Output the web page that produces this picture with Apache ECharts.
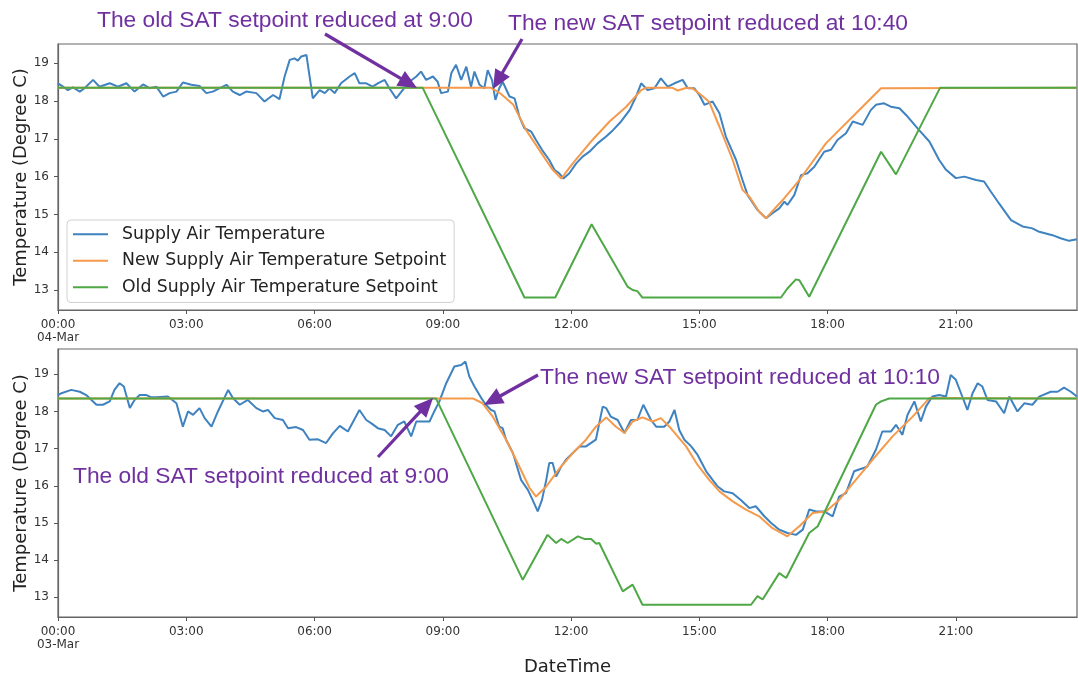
<!DOCTYPE html>
<html>
<head>
<meta charset="utf-8">
<script src="https://cdn.jsdelivr.net/npm/echarts@6/dist/echarts.min.js"></script>
<style>
html,body{margin:0;padding:0;background:#fff;}
#chart{width:1078px;height:678px;}
</style>
</head>
<body>
<div id="chart"></div>
<script>
// ---------------- DATA (hours since 00:00, temperature in degC) ----------------
const SERIES_NAMES = ['Supply Air Temperature', 'New Supply Air Temperature Setpoint', 'Old Supply Air Temperature Setpoint'];
const X_TICKS = [0, 3, 6, 9, 12, 15, 18, 21];
const Y_TICKS = [13, 14, 15, 16, 17, 18, 19];
const TOP_DATE = '04-Mar';
const BOTTOM_DATE = '03-Mar';

// Top panel (04-Mar)
const TOP_SAT = [[0,18.47],[0.12,18.38],[0.23,18.29],[0.35,18.36],[0.51,18.25],[0.62,18.34],[0.82,18.56],[0.97,18.38],[1.21,18.47],[1.4,18.38],[1.6,18.47],[1.79,18.25],[1.99,18.44],[2.14,18.34],[2.3,18.38],[2.46,18.12],[2.61,18.21],[2.77,18.25],[2.92,18.49],[3.12,18.43],[3.31,18.4],[3.47,18.21],[3.62,18.25],[3.94,18.43],[4.09,18.25],[4.25,18.16],[4.4,18.25],[4.64,18.21],[4.83,17.99],[5.03,18.16],[5.18,18.05],[5.3,18.65],[5.42,19.09],[5.53,19.13],[5.61,19.07],[5.69,19.18],[5.81,19.22],[5.96,18.07],[6.12,18.29],[6.24,18.21],[6.35,18.34],[6.47,18.21],[6.62,18.47],[6.82,18.65],[6.94,18.74],[7.05,18.47],[7.21,18.47],[7.36,18.38],[7.48,18.47],[7.64,18.56],[7.75,18.34],[7.91,18.07],[8.06,18.29],[8.22,18.51],[8.38,18.65],[8.49,18.78],[8.61,18.56],[8.77,18.65],[8.88,18.51],[8.96,18.21],[9.12,18.25],[9.2,18.74],[9.31,18.96],[9.43,18.56],[9.55,18.91],[9.66,18.38],[9.74,18.78],[9.86,18.43],[9.97,18.34],[10.05,18.82],[10.15,18.56],[10.23,18.03],[10.32,18.34],[10.4,18.51],[10.56,18.12],[10.68,18.07],[10.79,17.59],[10.91,17.28],[11.07,17.19],[11.18,16.97],[11.32,16.71],[11.49,16.44],[11.61,16.18],[11.72,16.09],[11.82,15.95],[11.96,16.09],[12.12,16.35],[12.27,16.53],[12.43,16.66],[12.62,16.88],[12.82,17.06],[12.98,17.23],[13.17,17.46],[13.37,17.76],[13.52,18.12],[13.64,18.47],[13.79,18.29],[13.95,18.34],[14.1,18.6],[14.26,18.38],[14.42,18.47],[14.61,18.56],[14.73,18.34],[14.88,18.34],[15.0,18.16],[15.12,17.9],[15.31,17.99],[15.47,17.68],[15.62,17.06],[15.86,16.44],[16.01,15.91],[16.13,15.51],[16.36,15.12],[16.56,14.9],[16.71,15.03],[16.87,15.16],[16.99,15.34],[17.06,15.25],[17.22,15.51],[17.38,16.04],[17.53,16.09],[17.69,16.26],[17.92,16.66],[18.08,16.71],[18.23,16.97],[18.43,17.15],[18.59,17.46],[18.82,17.37],[19.01,17.76],[19.13,17.9],[19.32,17.94],[19.48,17.85],[19.68,17.81],[19.87,17.59],[20.14,17.23],[20.38,16.93],[20.61,16.44],[20.77,16.18],[21.0,15.96],[21.2,16.0],[21.47,15.91],[21.66,15.87],[21.82,15.6],[22.01,15.29],[22.29,14.85],[22.56,14.68],[22.79,14.63],[22.95,14.54],[23.26,14.45],[23.45,14.37],[23.65,14.3],[23.83,14.34]];
const TOP_NEW_SP = [[0,18.35],[10.13,18.35],[10.35,18.2],[10.65,17.9],[10.95,17.23],[11.26,16.7],[11.57,16.18],[11.77,15.95],[12.04,16.35],[12.5,16.97],[12.9,17.46],[13.29,17.85],[13.64,18.29],[13.75,18.35],[14.37,18.35],[14.5,18.28],[14.7,18.35],[14.85,18.33],[15.0,18.2],[15.23,17.98],[15.47,17.32],[15.78,16.44],[16.01,15.65],[16.17,15.47],[16.4,15.07],[16.56,14.9],[16.95,15.38],[17.34,15.91],[17.96,16.88],[18.27,17.23],[18.59,17.59],[19.25,18.34],[23.83,18.35]];
const TOP_OLD_SP = [[0,18.35],[8.53,18.35],[10.91,12.8],[11.63,12.8],[12.48,14.74],[13.32,13.09],[13.44,13.0],[13.55,12.97],[13.67,12.8],[16.91,12.8],[17.06,13.04],[17.26,13.28],[17.34,13.26],[17.57,12.82],[19.25,16.66],[19.6,16.06],[20.63,18.35],[23.83,18.35]];

// Bottom panel (03-Mar)
const BOT_SAT = [[0,18.44],[0.08,18.49],[0.31,18.58],[0.51,18.53],[0.66,18.44],[0.9,18.18],[1.05,18.18],[1.21,18.27],[1.32,18.58],[1.44,18.76],[1.54,18.67],[1.68,18.09],[1.79,18.31],[1.91,18.44],[2.07,18.44],[2.18,18.38],[2.3,18.38],[2.57,18.4],[2.77,18.22],[2.92,17.59],[3.04,18.0],[3.16,17.91],[3.31,18.09],[3.43,17.82],[3.59,17.59],[3.74,18.0],[3.98,18.58],[4.09,18.36],[4.25,18.18],[4.44,18.31],[4.64,18.09],[4.79,18.0],[4.91,18.04],[5.07,17.82],[5.26,17.77],[5.38,17.55],[5.57,17.58],[5.73,17.5],[5.88,17.24],[6.08,17.25],[6.27,17.15],[6.43,17.41],[6.59,17.61],[6.78,17.46],[7.05,18.04],[7.21,17.77],[7.33,17.68],[7.48,17.55],[7.64,17.5],[7.79,17.33],[7.95,17.64],[8.1,17.73],[8.26,17.33],[8.38,17.73],[8.49,17.73],[8.69,17.73],[8.8,18.0],[8.92,18.27],[9.08,18.76],[9.27,19.21],[9.43,19.25],[9.53,19.34],[9.62,18.94],[9.74,18.67],[9.9,18.36],[10.01,18.18],[10.13,18.04],[10.21,18.0],[10.32,17.59],[10.4,17.55],[10.48,17.24],[10.64,16.88],[10.83,16.16],[10.99,15.89],[11.1,15.62],[11.22,15.31],[11.32,15.62],[11.42,16.16],[11.49,16.61],[11.57,16.61],[11.65,16.25],[11.77,16.52],[11.88,16.7],[12.04,16.88],[12.2,17.06],[12.35,17.06],[12.58,17.24],[12.74,18.13],[12.82,18.09],[12.93,17.86],[13.09,17.77],[13.25,17.42],[13.4,17.77],[13.55,17.77],[13.69,18.18],[13.87,17.77],[13.99,17.59],[14.18,17.59],[14.3,17.73],[14.42,18.04],[14.53,17.5],[14.65,17.24],[14.81,17.06],[14.96,16.83],[15.16,16.39],[15.31,16.16],[15.43,15.98],[15.58,15.85],[15.78,15.8],[15.97,15.62],[16.17,15.4],[16.32,15.45],[16.52,15.18],[16.68,15.0],[16.87,14.82],[17.06,14.73],[17.26,14.68],[17.42,14.82],[17.57,15.36],[17.73,15.31],[17.92,15.31],[18.12,15.18],[18.27,15.71],[18.43,15.8],[18.62,16.39],[18.82,16.47],[18.93,16.52],[19.13,16.97],[19.28,17.46],[19.48,17.46],[19.6,17.64],[19.75,17.37],[19.87,17.91],[20.03,18.27],[20.18,17.73],[20.3,18.13],[20.45,18.4],[20.61,18.44],[20.77,18.4],[20.88,18.98],[21.0,18.85],[21.12,18.49],[21.27,18.04],[21.39,18.49],[21.51,18.76],[21.62,18.67],[21.74,18.31],[21.94,18.27],[22.13,17.95],[22.25,18.4],[22.44,18.0],[22.6,18.22],[22.79,18.18],[22.95,18.4],[23.22,18.53],[23.38,18.53],[23.53,18.64],[23.69,18.53],[23.83,18.4]];
const BOT_NEW_SP = [[0,18.35],[9.7,18.35],[9.93,18.22],[10.17,17.86],[10.48,17.24],[10.79,16.52],[11.03,15.94],[11.18,15.71],[11.42,15.98],[11.73,16.47],[12.04,16.88],[12.35,17.24],[12.58,17.59],[12.82,17.84],[13.05,17.59],[13.25,17.42],[13.44,17.73],[13.67,17.84],[13.91,17.73],[14.1,17.82],[14.3,17.59],[14.69,17.06],[14.96,16.56],[15.23,16.16],[15.47,15.85],[15.78,15.58],[16.09,15.36],[16.4,15.18],[16.71,14.86],[17.06,14.64],[17.34,14.91],[17.65,15.27],[17.96,15.31],[18.27,15.62],[18.66,16.16],[19.05,16.7],[19.52,17.33],[19.99,17.86],[20.38,18.36],[23.83,18.35]];
const BOT_OLD_SP = [[0,18.35],[8.84,18.35],[10.87,13.47],[11.45,14.68],[11.65,14.46],[11.77,14.57],[11.92,14.46],[12.16,14.64],[12.31,14.57],[12.47,14.57],[12.59,14.44],[12.66,14.46],[13.21,13.16],[13.44,13.34],[13.67,12.8],[16.21,12.8],[16.36,13.03],[16.48,12.94],[16.87,13.65],[17.03,13.52],[17.57,14.73],[17.77,14.91],[19.13,18.18],[19.25,18.27],[19.44,18.35],[23.83,18.35]];

// Annotations (text + arrow tail/tip in pixels)
const ANNOTATIONS = [
  {text:'The old SAT setpoint reduced at 9:00', tx:97, ty:20.5, from:[325,34], to:[417,88]},
  {text:'The new SAT setpoint reduced at 10:40', tx:508, ty:23.5, from:[522,39], to:[493,89]},
  {text:'The new SAT setpoint reduced at 10:10', tx:540, ty:377.5, from:[538,375], to:[484,405]},
  {text:'The old SAT setpoint reduced at 9:00', tx:73, ty:477, from:[378,457], to:[433,398]}
];

// ---------------- CHART ----------------
const COLORS = ['#3f82c0', '#f5994b', '#4ea846'];
const PURPLE = '#7030a0';
const FONT = 'DejaVu Sans';
const X_MIN = 0, X_MAX = 23 + 50/60;

function hh(v){ return (v < 10 ? '0' : '') + Math.round(v) + ':00'; }

function makeX(gridIndex, date, withName){
  return {
    type:'value', gridIndex, min:X_MIN, max:X_MAX,
    axisLine:{show:true, lineStyle:{color:'#666', width:1.2}},
    axisTick:{show:true, inside:false, length:4, lineStyle:{color:'#555'}, customValues:X_TICKS},
    axisLabel:{customValues:X_TICKS, color:'#333', fontFamily:FONT, fontSize:12, lineHeight:13, margin:8,
      formatter: v => v === 0 ? hh(v) + '\n' + date : hh(v)},
    splitLine:{show:false},
    name: withName ? 'DateTime' : '',
    nameLocation:'middle', nameGap:41, nameMoveOverlap:false,
    nameTextStyle:{color:'#222', fontFamily:FONT, fontSize:18}
  };
}
function makeY(gridIndex, min, max){
  return {
    type:'value', gridIndex, min, max,
    axisLine:{show:true, lineStyle:{color:'#666', width:1.2}},
    axisTick:{show:true, inside:false, length:4, lineStyle:{color:'#555'}, customValues:Y_TICKS},
    axisLabel:{customValues:Y_TICKS, color:'#333', fontFamily:FONT, fontSize:12, margin:9},
    splitLine:{show:false},
    name:'Temperature (Degree C)', nameLocation:'middle', nameGap:28, nameMoveOverlap:false,
    nameTextStyle:{color:'#222', fontFamily:FONT, fontSize:18}
  };
}
function makeSeries(name, data, idx, color){
  return {
    type:'line', name, data, xAxisIndex:idx, yAxisIndex:idx,
    showSymbol:false, symbol:'none', smooth:false, animation:false,
    lineStyle:{color, width:2}, itemStyle:{color}
  };
}

const graphic = [];
ANNOTATIONS.forEach(a => {
  graphic.push({type:'text', x:a.tx, y:a.ty, z:100,
    style:{text:a.text, fill:PURPLE, fontSize:22.8, fontFamily:'Liberation Sans', verticalAlign:'middle'}});
  const [x1,y1] = a.from, [x2,y2] = a.to;
  const dx = x2-x1, dy = y2-y1, L = Math.hypot(dx,dy), ux = dx/L, uy = dy/L;
  const hl = 19, hw = 8.5;
  const bx = x2 - ux*hl, by = y2 - uy*hl;
  graphic.push({type:'line', z:100, shape:{x1, y1, x2:bx+ux*2, y2:by+uy*2}, style:{stroke:PURPLE, lineWidth:3.2}});
  graphic.push({type:'polygon', z:100, shape:{points:[[x2,y2],[bx - uy*hw, by + ux*hw],[bx + uy*hw, by - ux*hw]]}, style:{fill:PURPLE}});
});

const gridBase = {show:true, borderColor:'#666', borderWidth:1.2, backgroundColor:'transparent',
  containLabel:false, outerBoundsMode:'none'};

const chart = echarts.init(document.getElementById('chart'), null, {renderer:'canvas'});
chart.setOption({
  animation:false,
  backgroundColor:'#fff',
  grid:[
    Object.assign({left:58, top:44, width:1019, height:266}, gridBase),
    Object.assign({left:58, top:349, width:1019, height:268}, gridBase)
  ],
  xAxis:[makeX(0, TOP_DATE, false), makeX(1, BOTTOM_DATE, true)],
  yAxis:[makeY(0, 12.47, 19.51), makeY(1, 12.47, 19.68)],
  legend:{
    show:true, orient:'vertical', left:67, top:220,
    data:SERIES_NAMES, icon:'rect', itemWidth:35, itemHeight:2, itemGap:8,
    padding:[5, 8, 6, 6],
    backgroundColor:'rgba(255,255,255,0.85)', borderColor:'#d0d0d0', borderWidth:1, borderRadius:4,
    textStyle:{color:'#222', fontFamily:FONT, fontSize:17.3, lineHeight:18.5, padding:[0,0,0,9]},
    selectedMode:false
  },
  graphic,
  series:[
    makeSeries(SERIES_NAMES[0], TOP_SAT, 0, COLORS[0]),
    makeSeries(SERIES_NAMES[1], TOP_NEW_SP, 0, COLORS[1]),
    makeSeries(SERIES_NAMES[2], TOP_OLD_SP, 0, COLORS[2]),
    makeSeries(SERIES_NAMES[0], BOT_SAT, 1, COLORS[0]),
    makeSeries(SERIES_NAMES[1], BOT_NEW_SP, 1, COLORS[1]),
    makeSeries(SERIES_NAMES[2], BOT_OLD_SP, 1, COLORS[2])
  ]
});
</script>
</body>
</html>
